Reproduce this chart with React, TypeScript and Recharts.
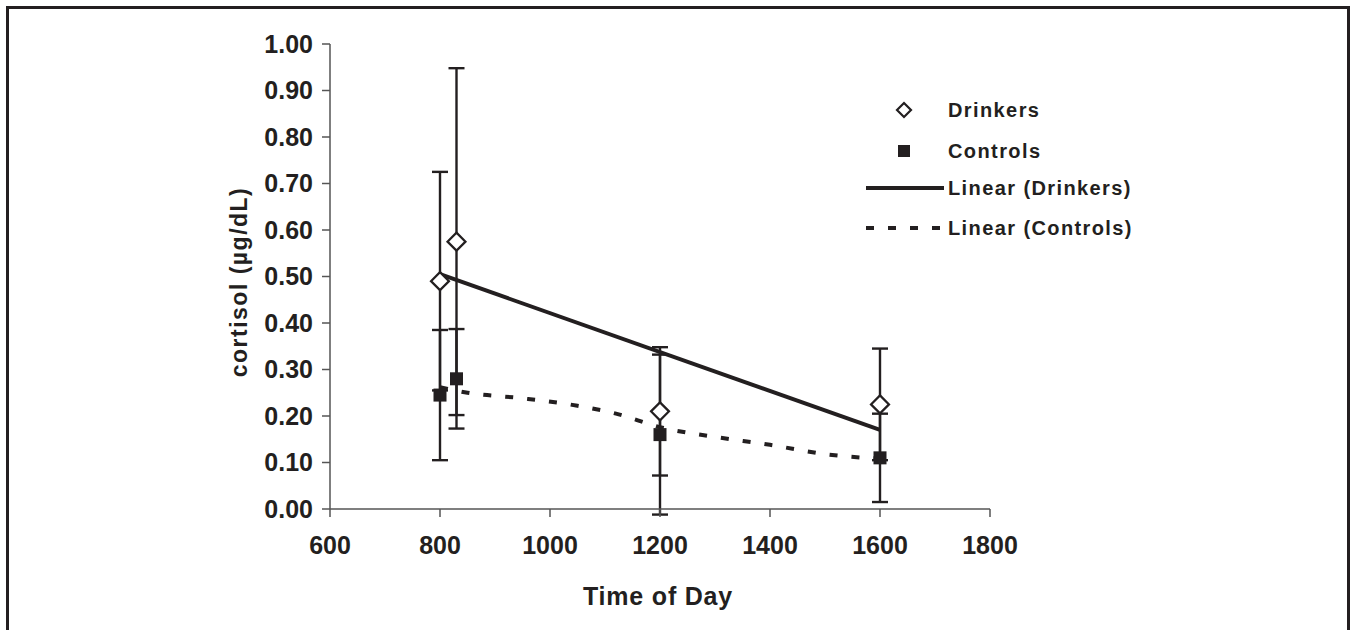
import React from 'react';
import {
  ComposedChart,
  XAxis,
  YAxis,
  Scatter,
  Line,
  ErrorBar,
} from 'recharts';

// ---- data ----
const drinkerTimes = [800, 830, 1200, 1600];
const drinkerMeans = [0.49, 0.575, 0.21, 0.225];
const drinkerErrors = [0.235, 0.373, 0.138, 0.12];

const controlTimes = [800, 830, 1200, 1600];
const controlMeans = [0.245, 0.28, 0.16, 0.11];
const controlErrors = [0.14, 0.107, 0.172, 0.095];

const drinkerTrendTimes = [800, 1600];
const drinkerTrendValues = [0.505, 0.17];

const controlTrendTimes = [800, 850, 950, 1050, 1120, 1200, 1300, 1400, 1500, 1600];
const controlTrendValues = [0.262, 0.25, 0.238, 0.222, 0.205, 0.176, 0.155, 0.138, 0.118, 0.108];

const xTicks = [600, 800, 1000, 1200, 1400, 1600, 1800];
const yTicks = [0, 0.1, 0.2, 0.3, 0.4, 0.5, 0.6, 0.7, 0.8, 0.9, 1.0];

const legendNames = ['Drinkers', 'Controls', 'Linear (Drinkers)', 'Linear (Controls)'];

const xTitle = 'Time of Day';
const yTitle = 'cortisol (µg/dL)';

// ---- derived tables ----
const drinkersData = drinkerTimes.map((t, i) => ({ x: t, y: drinkerMeans[i], err: drinkerErrors[i] }));
const controlsData = controlTimes.map((t, i) => ({ x: t, y: controlMeans[i], err: controlErrors[i] }));
const drinkerTrend = drinkerTrendTimes.map((t, i) => ({ x: t, y: drinkerTrendValues[i] }));
const controlTrend = controlTrendTimes.map((t, i) => ({ x: t, y: controlTrendValues[i] }));

const INK = '#231f20';
const FONT = '"Liberation Sans", Arial, Helvetica, sans-serif';

const DiamondShape = (props: any) => {
  const { cx, cy } = props;
  const r = 9;
  return (
    <path
      d={`M${cx},${cy - r} L${cx + r},${cy} L${cx},${cy + r} L${cx - r},${cy} Z`}
      fill="#fff"
      stroke={INK}
      strokeWidth={2.2}
    />
  );
};

const SquareShape = (props: any) => {
  const { cx, cy } = props;
  const s = 13;
  return <rect x={cx - s / 2} y={cy - s / 2} width={s} height={s} fill={INK} />;
};

const LegendBox = () => {
  const rows = [20, 61, 98, 138];
  const textX = 98;
  return (
    <svg width={320} height={160} style={{ position: 'absolute', left: 850, top: 90, overflow: 'visible' }}>
      <path d={`M54,${rows[0] - 7} L61,${rows[0]} L54,${rows[0] + 7} L47,${rows[0]} Z`} fill="#fff" stroke={INK} strokeWidth={2.2} />
      <rect x={48} y={rows[1] - 6} width={12} height={12} fill={INK} />
      <line x1={16} y1={rows[2]} x2={94} y2={rows[2]} stroke={INK} strokeWidth={4} />
      <line x1={16} y1={rows[3]} x2={94} y2={rows[3]} stroke={INK} strokeWidth={4} strokeDasharray="8 14" />
      {legendNames.map((n, i) => (
        <text
          key={n}
          x={textX}
          y={rows[i] + 7}
          fontFamily={FONT}
          fontWeight="bold"
          fontSize={20}
          letterSpacing={1.4}
          fill={INK}
        >
          {n}
        </text>
      ))}
    </svg>
  );
};

const XTitle = (props: any) => {
  const { viewBox } = props;
  const cx = viewBox.x + viewBox.width / 2 - 2;
  return (
    <text x={cx} y={605} textAnchor="middle" fontFamily={FONT} fontWeight="bold" fontSize={25} letterSpacing={0.8} fill={INK}>
      {xTitle}
    </text>
  );
};

const YTitle = () => {
  const x = 239;
  const y = 282;
  return (
    <text
      x={x}
      y={y}
      transform={`rotate(-90 ${x} ${y})`}
      textAnchor="middle"
      dominantBaseline="central"
      fontFamily={FONT}
      fontWeight="bold"
      fontSize={23}
      letterSpacing={1.5}
      fill={INK}
    >
      {yTitle}
    </text>
  );
};

const tickStyle = { fill: INK, fontSize: 25, fontWeight: 'bold' as const, fontFamily: FONT };

export default function App() {
  return (
    <div style={{ position: 'absolute', left: 0, top: 0, width: 1351, height: 630, background: '#fff', overflow: 'hidden' }}>
      <div
        style={{
          position: 'absolute',
          left: 6,
          top: 6,
          width: 1344,
          height: 660,
          boxSizing: 'border-box',
          borderTop: `3px solid ${INK}`,
          borderLeft: `3px solid ${INK}`,
          borderRight: `3px solid ${INK}`,
        }}
      />
      <div style={{ position: 'absolute', left: 0, top: 0 }}>
        <ComposedChart width={1351} height={630} margin={{ top: 44, right: 361, bottom: 0, left: 0 }}>
          <XAxis
            type="number"
            dataKey="x"
            domain={[600, 1800]}
            ticks={xTicks}
            interval={0}
            allowDataOverflow
            height={121}
            tickSize={8}
            tickMargin={19}
            tick={tickStyle}
            axisLine={{ stroke: '#555', strokeWidth: 1.5 }}
            tickLine={{ stroke: '#555', strokeWidth: 1.5 }}
            label={<XTitle />}
          />
          <YAxis
            type="number"
            dataKey="y"
            domain={[0, 1]}
            ticks={yTicks}
            interval={0}
            allowDataOverflow
            width={330}
            tickSize={8}
            tickMargin={9}
            tick={tickStyle}
            tickFormatter={(v: number) => v.toFixed(2)}
            axisLine={{ stroke: '#555', strokeWidth: 1.5 }}
            tickLine={{ stroke: '#555', strokeWidth: 1.5 }}
            label={<YTitle />}
          />
          <Line
            data={drinkerTrend}
            dataKey="y"
            type="linear"
            stroke={INK}
            strokeWidth={4}
            dot={false}
            activeDot={false}
            isAnimationActive={false}
          />
          <Line
            data={controlTrend}
            dataKey="y"
            type="monotone"
            stroke={INK}
            strokeWidth={4}
            strokeDasharray="8 14"
            dot={false}
            activeDot={false}
            isAnimationActive={false}
          />
          <Scatter data={controlsData} dataKey="y" shape={<SquareShape />} isAnimationActive={false}>
            <ErrorBar dataKey="err" direction="y" width={8} strokeWidth={2.4} stroke={INK} />
          </Scatter>
          <Scatter data={drinkersData} dataKey="y" shape={<DiamondShape />} isAnimationActive={false}>
            <ErrorBar dataKey="err" direction="y" width={8} strokeWidth={2.4} stroke={INK} />
          </Scatter>
        </ComposedChart>
      </div>
      <LegendBox />
    </div>
  );
}
